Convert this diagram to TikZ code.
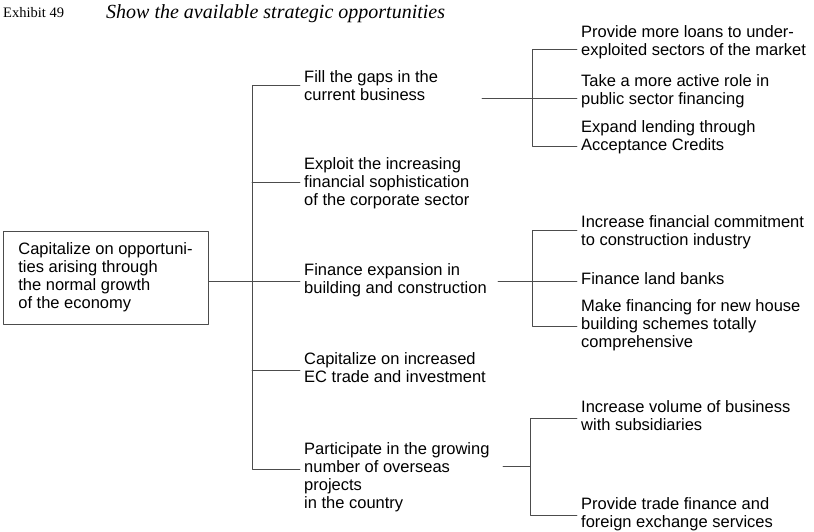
\documentclass[tikz,border=0pt]{standalone}
\usepackage{fontspec}
\setmainfont{Liberation Serif}
\setsansfont{Liberation Sans}
\usetikzlibrary{positioning}

\begin{document}
\begin{tikzpicture}[x=1pt, y=-1pt, line cap=round, line join=round]
	
	\def\xa{304}
	\def\xb{581}
	
	\tikzset{
		link/.style={line width=0.6pt, black!70},
		lvl/.style={anchor=north west, align=left, inner sep=0pt, font=\sffamily\fontsize{16.5}{18}\selectfont},
		rootbox/.style={draw=black!70, line width=0.6pt, align=left, minimum width=205pt, minimum height=93pt, inner sep=0pt, font=\sffamily\fontsize{16.5}{18}\selectfont},
		head/.style={anchor=base west, inner sep=0pt}
	}
	
	\useasboundingbox (0,0) rectangle (814,531);
	
	\node[head, font=\fontsize{14.5}{16}\selectfont] (exh) at (3,17) {Exhibit 49};
	\node[head, font=\fontsize{20}{22}\selectfont\itshape] (title) at (106,18) {Show the available strategic opportunities};
	
	\node[rootbox] (root) at (105.5,277.5) {\strut Capitalize on opportuni-\\ ties arising through\\ the normal growth\\ of the economy\strut};
	
	\node[lvl] (fill) at (\xa,70) {\strut Fill the gaps in the\\ current business\strut};
	\node[lvl] (expl) at (\xa,157) {\strut Exploit the increasing\\ financial sophistication\\ of the corporate sector\strut};
	\node[lvl] (fin) at (\xa,263) {\strut Finance expansion in\\ building and construction\strut};
	\node[lvl] (cap) at (\xa,352) {\strut Capitalize on increased\\ EC trade and investment\strut};
	\node[lvl] (part) at (\xa,442) {\strut Participate in the growing\\ number of overseas\\ projects\\ in the country\strut};
	
	\node[lvl] (loans) at (\xb,25) {\strut Provide more loans to under-\\ exploited sectors of the market\strut};
	\node[lvl] (active) at (\xb,74) {\strut Take a more active role in\\ public sector financing\strut};
	\node[lvl] (expand) at (\xb,120) {\strut Expand lending through\\ Acceptance Credits\strut};
	\node[lvl] (commit) at (\xb,215) {\strut Increase financial commitment\\ to construction industry\strut};
	\node[lvl] (land) at (\xb,272) {\strut Finance land banks\strut};
	\node[lvl] (house) at (\xb,299) {\strut Make financing for new house\\ building schemes totally\\ comprehensive\strut};
	\node[lvl] (volume) at (\xb,400) {\strut Increase volume of business\\ with subsidiaries\strut};
	\node[lvl] (trade) at (\xb,497) {\strut Provide trade finance and\\ foreign exchange services\strut};
	
	% where the lines meet the texts
	\foreach \k/\dy in {fill/3, expl/2, fin/0, cap/0, part/9, loans/-6, active/-6, expand/-8, commit/3, land/0, house/0, volume/0, trade/0}
		\coordinate (\k In) at ([yshift=\dy pt]\k.west);
	
	\coordinate (tr) at (252,0);
	\coordinate (fillS) at (532,98);
	\coordinate (finS) at (532,281);
	\coordinate (partS) at (530,466);
	\coordinate (fillJ) at (482,98);
	\coordinate (finJ) at (498,281);
	\coordinate (partJ) at (503,466);
	
	% main trunk
	\draw[link, shorten >=4pt] (root.east |- finIn) -- (finIn);
	\draw[link, shorten <=4pt, shorten >=4pt] (fillIn) -| (tr |- partIn) -- (partIn);
	\foreach \k in {expl, cap}
		\draw[link, shorten >=4pt] (tr |- \k In) -- (\k In);
	
	% brackets on the right
	\draw[link] (fillJ) -- (fillS);
	\draw[link, shorten <=4pt, shorten >=4pt] (loansIn) -| (fillS |- expandIn) -- (expandIn);
	\draw[link, shorten >=4pt] (fillS |- activeIn) -- (activeIn);
	
	\draw[link] (finJ) -- (finS);
	\draw[link, shorten <=4pt, shorten >=4pt] (commitIn) -| (finS |- houseIn) -- (houseIn);
	\draw[link, shorten >=4pt] (finS |- landIn) -- (landIn);
	
	\draw[link] (partJ) -- (partS);
	\draw[link, shorten <=4pt, shorten >=4pt] (volumeIn) -| (partS |- tradeIn) -- (tradeIn);
	
\end{tikzpicture}
\end{document}
